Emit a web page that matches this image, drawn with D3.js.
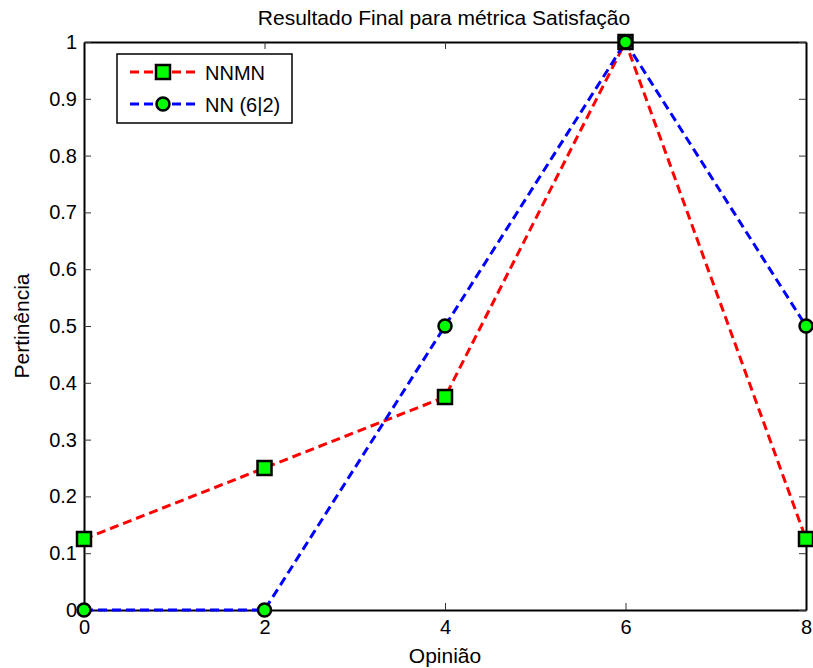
<!DOCTYPE html>
<html>
<head>
<meta charset="utf-8">
<script src="https://cdn.jsdelivr.net/npm/d3@7"></script>
<style>
body { margin: 0; background: #fff; }
text { font-family: "Liberation Sans", Arial, sans-serif; }
</style>
</head>
<body>
<script>
// data
var opinion = [0, 2, 4, 6, 8];
var nnmn = [0.125, 0.25, 0.375, 1, 0.125];
var nn62 = [0, 0, 0.5, 1, 0.5];
var series_names = ['NNMN', 'NN (6|2)'];
var x_ticks = [0, 2, 4, 6, 8];
var y_ticks = [0, 0.1, 0.2, 0.3, 0.4, 0.5, 0.6, 0.7, 0.8, 0.9, 1];

var width = 813, height = 668;
var pad_left = 84, pad_right = 806, pad_top = 42, pad_bottom = 610;

var svg = d3.select('body').append('svg').attr('width', width).attr('height', height);

var x_scale = d3.scaleLinear().domain([0, 8]).range([pad_left, pad_right]);
var y_scale = d3.scaleLinear().domain([0, 1]).range([pad_bottom, pad_top]);

// axes box with inward ticks
svg.append('g').attr('transform', 'translate(0,' + pad_bottom + ')')
    .call(d3.axisBottom(x_scale).tickValues(x_ticks).tickSize(-7).tickSizeOuter(0).tickPadding(10).tickFormat(d3.format('d')));
svg.append('g').attr('transform', 'translate(0,' + pad_top + ')')
    .call(d3.axisTop(x_scale).tickValues(x_ticks).tickSize(-7).tickSizeOuter(0).tickFormat(''));
svg.append('g').attr('transform', 'translate(' + pad_left + ',0)')
    .call(d3.axisLeft(y_scale).tickValues(y_ticks).tickSize(-7).tickSizeOuter(0).tickPadding(7).tickFormat(d => d3.format('~g')(d)));
svg.append('g').attr('transform', 'translate(' + pad_right + ',0)')
    .call(d3.axisRight(y_scale).tickValues(y_ticks).tickSize(-7).tickSizeOuter(0).tickFormat(''));

svg.selectAll('.domain').attr('stroke', '#000').attr('stroke-width', 2);
svg.selectAll('.tick line').attr('stroke', '#333').attr('stroke-width', 1);
svg.selectAll('.tick text').style('font-size', '20px').attr('fill', '#000')
    .style('font-family', '"Liberation Sans", Arial, sans-serif');

// labels
svg.append('text').attr('x', (pad_left + pad_right) / 2 - 1).attr('y', 25).attr('text-anchor', 'middle')
    .style('font-size', '21px').text('Resultado Final para métrica Satisfação');
svg.append('text').attr('x', (pad_left + pad_right) / 2).attr('y', 663).attr('text-anchor', 'middle')
    .style('font-size', '21px').text('Opinião');
svg.append('text').attr('transform', 'translate(29,' + (pad_top + pad_bottom) / 2 + ') rotate(-90)')
    .attr('text-anchor', 'middle').style('font-size', '21px').text('Pertinência');

var line = d3.line().x((d, i) => x_scale(opinion[i])).y(d => y_scale(d));

svg.append('path').datum(nnmn).attr('d', line).attr('fill', 'none')
    .attr('stroke', '#ff0000').attr('stroke-width', 3).attr('stroke-dasharray', '9,5');
svg.append('path').datum(nn62).attr('d', line).attr('fill', 'none')
    .attr('stroke', '#0000ff').attr('stroke-width', 3).attr('stroke-dasharray', '9,5');

// markers
svg.selectAll('.sq').data(nnmn).enter().append('rect').attr('class', 'sq')
    .attr('x', (d, i) => x_scale(opinion[i]) - 7).attr('y', d => y_scale(d) - 7)
    .attr('width', 14).attr('height', 14)
    .attr('fill', '#00ff00').attr('stroke', '#000').attr('stroke-width', 2.5);
svg.selectAll('.ci').data(nn62).enter().append('circle').attr('class', 'ci')
    .attr('cx', (d, i) => x_scale(opinion[i])).attr('cy', d => y_scale(d)).attr('r', 6.5)
    .attr('fill', '#00ff00').attr('stroke', '#000').attr('stroke-width', 2.5);

// legend
var lg = svg.append('g');
lg.append('rect').attr('x', 117).attr('y', 54).attr('width', 175).attr('height', 69)
    .attr('fill', '#fff').attr('stroke', '#000').attr('stroke-width', 1.5);
var colors = ['#ff0000', '#0000ff'];
series_names.forEach(function(name, i) {
    var yy = 72 + i * 32;
    lg.append('line').attr('x1', 130).attr('x2', 195).attr('y1', yy).attr('y2', yy)
        .attr('stroke', colors[i]).attr('stroke-width', 3).attr('stroke-dasharray', '9,5');
    if (i == 0)
        lg.append('rect').attr('x', 156).attr('y', yy - 7).attr('width', 14).attr('height', 14)
            .attr('fill', '#00ff00').attr('stroke', '#000').attr('stroke-width', 2.5);
    else
        lg.append('circle').attr('cx', 163).attr('cy', yy).attr('r', 6.5)
            .attr('fill', '#00ff00').attr('stroke', '#000').attr('stroke-width', 2.5);
    lg.append('text').attr('x', 205).attr('y', yy + 8).style('font-size', '20px').text(name);
});
</script>
</body>
</html>
